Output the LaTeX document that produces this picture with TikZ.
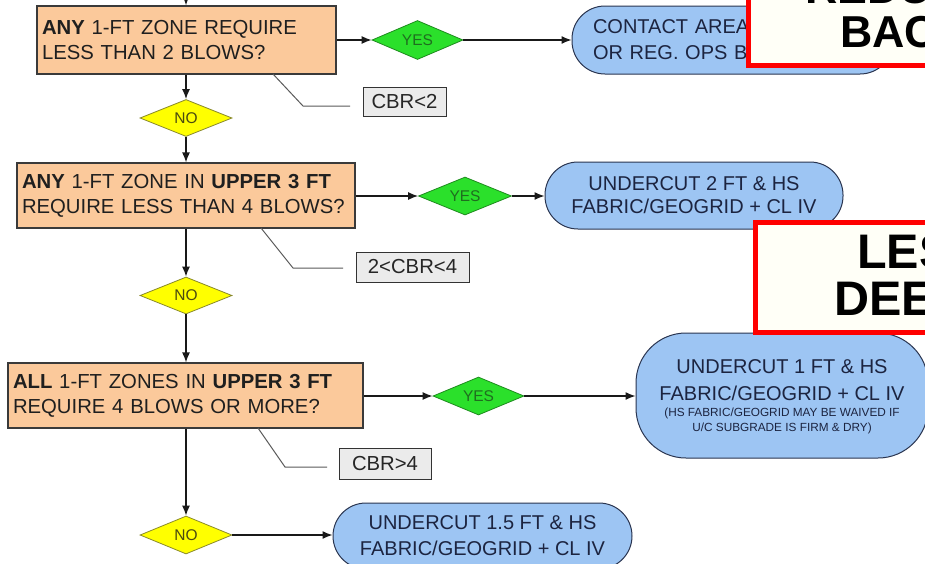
\documentclass[tikz,border=0pt]{standalone}
\usepackage{fontspec}
\setmainfont{Liberation Sans}
\usetikzlibrary{shapes.geometric,arrows.meta}
\definecolor{qfill}{HTML}{FBC99B}
\definecolor{qdraw}{HTML}{3A3A3A}
\definecolor{sfill}{HTML}{9DC5F3}
\definecolor{sdraw}{HTML}{2A3550}
\definecolor{stext}{HTML}{1C2440}
\definecolor{yfill}{HTML}{2BE02B}
\definecolor{ydraw}{HTML}{1E8B1E}
\definecolor{ytext}{HTML}{1F6E1F}
\definecolor{nfill}{HTML}{FFFF00}
\definecolor{ndraw}{HTML}{8A8A2A}
\definecolor{ntext}{HTML}{4A4A10}
\definecolor{lfill}{HTML}{EBEBEB}
\definecolor{rfill}{HTML}{FFFFF7}
\definecolor{calline}{HTML}{5A5A5A}
\tikzset{
  qbox/.style={draw=qdraw, line width=1.2pt, fill=qfill, align=left, inner xsep=5pt, inner ysep=0pt,
    font=\fontsize{20.3}{25}\selectfont, text=black!88},
  stad/.style={draw=sdraw, fill=sfill, line width=1pt, inner sep=0pt, text=stext,
    font=\fontsize{20}{23}\selectfont},
  yesd/.style={diamond, aspect=2.3, draw=ydraw, fill=yfill, line width=0.8pt, inner sep=0pt, text=ytext,
    font=\fontsize{15.5}{15.5}\selectfont},
  nod/.style={diamond, aspect=2.3, draw=ndraw, fill=nfill, line width=0.8pt, inner sep=0pt, text=ntext,
    font=\fontsize{15.5}{15.5}\selectfont},
  lbl/.style={draw=black!80, fill=lfill, line width=1pt, inner sep=0pt, text=black!85,
    font=\fontsize{20.3}{20}\selectfont},
  arr/.style={draw=black!90, line width=1.3pt, -{Latex[length=10pt,width=8pt]}},
  callout/.style={draw=calline, line width=1pt},
  redbox/.style={draw=red, line width=5pt, fill=rfill, inner sep=0pt},
  bigA/.style={font=\fontsize{44.7}{44.7}\selectfont\bfseries, inner sep=0pt, anchor=base west},
  bigB/.style={font=\fontsize{48.5}{48.5}\selectfont\bfseries, inner sep=0pt, anchor=base west}
}
\begin{document}
\begin{tikzpicture}[x=1pt,y=-1pt]
\useasboundingbox (0,0) rectangle (925,563);
\clip (0,0) rectangle (925,563);
\fill[white] (0,0) rectangle (925,563);

% question boxes
\node[qbox, text width=289pt, minimum height=68pt] (q1) at (186.5,40)
  {\textbf{ANY} 1-FT ZONE REQUIRE\\LESS THAN 2 BLOWS?};
\node[qbox, text width=328pt, minimum height=65pt] (q2) at (186,195.5)
  {\textbf{ANY} 1-FT ZONE IN \textbf{UPPER 3 FT}\\REQUIRE LESS THAN 4 BLOWS?};
\node[qbox, text width=345pt, minimum height=65pt] (q3) at (185.5,395.5)
  {\textbf{ALL} 1-FT ZONES IN \textbf{UPPER 3 FT}\\REQUIRE 4 BLOWS OR MORE?};

% decision diamonds
\node[yesd, minimum width=91pt, minimum height=39pt] (y1) at (417.5,40) {YES};
\node[yesd, minimum width=93pt, minimum height=38pt] (y2) at (465,196) {YES};
\node[yesd, minimum width=91pt, minimum height=38pt] (y3) at (478.5,396) {YES};
\node[nod, minimum width=92pt, minimum height=37pt] (n1) at (186,118) {NO};
\node[nod, minimum width=92pt, minimum height=37pt] (n2) at (186,295.5) {NO};
\node[nod, minimum width=92pt, minimum height=38pt] (n3) at (186,535) {NO};

% result terminators
\node[stad, rounded corners=33pt, minimum width=321pt, minimum height=68pt, align=left, text width=279pt,
  font=\fontsize{20}{26}\selectfont] (s1) at (732.5,40) {CONTACT AREA\\OR REG. OPS B};
\node[stad, rounded corners=33pt, minimum width=298pt, minimum height=67pt, align=center] (s2) at (694,195.5)
  {UNDERCUT 2 FT \& HS\\FABRIC/GEOGRID + CL IV};
\node[stad, rounded corners=50pt, minimum width=292pt, minimum height=125pt, align=center,
  font=\fontsize{20}{27}\selectfont] (s3) at (782,395.5)
  {\rule{0pt}{16pt}UNDERCUT 1 FT \& HS\\FABRIC/GEOGRID + CL IV\\[-11pt]{\fontsize{11.8}{12}\selectfont (HS FABRIC/GEOGRID MAY BE WAIVED IF}\\[-12pt]{\fontsize{11.8}{12}\selectfont U/C SUBGRADE IS FIRM \& DRY)}};
\node[stad, rounded corners=33pt, minimum width=299pt, minimum height=66pt, align=center,
  font=\fontsize{20}{26}\selectfont] (s4) at (482.5,536)
  {UNDERCUT 1.5 FT \& HS\\FABRIC/GEOGRID + CL IV};

% labels
\node[lbl, minimum width=83pt, minimum height=29pt] (l1) at (404.5,101.5) {CBR<2};
\node[lbl, minimum width=113pt, minimum height=30pt] (l2) at (412.5,267) {2<CBR<4};
\node[lbl, minimum width=92pt, minimum height=31pt] (l3) at (385,463.5) {CBR>4};

% callout lines
\coordinate (c1a) at (273,74);  \coordinate (c1b) at (303,106); \coordinate (c1c) at (350,106);
\coordinate (c2a) at (261,228); \coordinate (c2b) at (293,268); \coordinate (c2c) at (343,268);
\coordinate (c3a) at (258,428); \coordinate (c3b) at (285,467); \coordinate (c3c) at (327,467);
\draw[callout] (c1a) -- (c1b) -- (c1c);
\draw[callout] (c2a) -- (c2b) -- (c2c);
\draw[callout] (c3a) -- (c3b) -- (c3c);

% connectors
\coordinate (top) at (186,-12);
\draw[arr] (top) -- (top |- q1.north);
\draw[arr] (n1.north |- q1.south) -- (n1.north);
\draw[arr] (n1.south) -- (n1.south |- q2.north);
\draw[arr] (n2.north |- q2.south) -- (n2.north);
\draw[arr] (n2.south) -- (n2.south |- q3.north);
\draw[arr] (n3.north |- q3.south) -- (n3.north);
\draw[arr] (q1.east |- y1.west) -- (y1.west);
\draw[arr] (y1.east) -- (s1.west |- y1.east);
\draw[arr] (q2.east |- y2.west) -- (y2.west);
\draw[arr] (y2.east) -- (s2.west |- y2.east);
\draw[arr] (q3.east |- y3.west) -- (y3.west);
\draw[arr] (y3.east) -- (s3.west |- y3.east);
\draw[arr] (n3.east) -- (s4.west |- n3.east);

% red overlay boxes
\node[redbox, anchor=south west, minimum width=230pt, minimum height=140pt] (r1) at (745.5,67.5) {};
\node[bigA] (r1a) at (805,3) {REDU};
\node[bigA] (r1b) at (840,47) {BAC};
\node[redbox, anchor=north west, minimum width=230pt, minimum height=110pt] (r2) at (752.5,219.5) {};
\node[bigB] (r2a) at (857,268) {LES};
\node[bigB] (r2b) at (834,315) {DEE};
\end{tikzpicture}
\end{document}
